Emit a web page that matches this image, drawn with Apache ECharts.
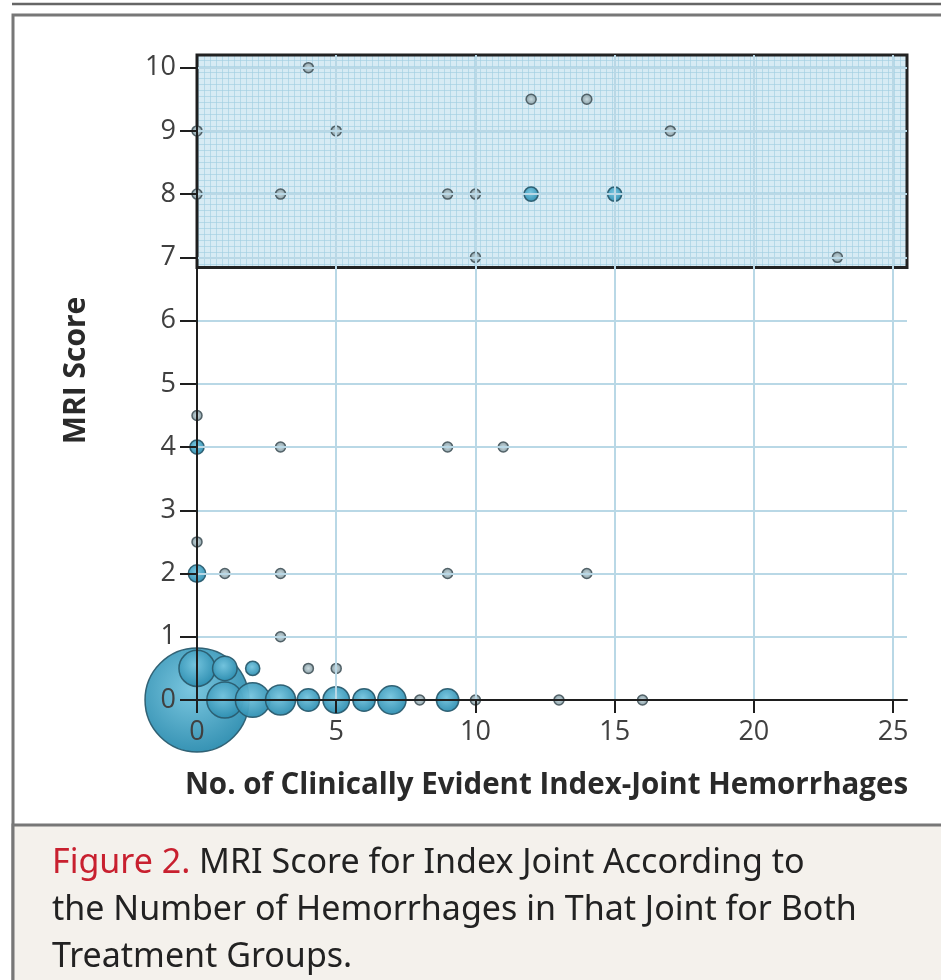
<!DOCTYPE html>
<html lang="en">
<head>
  <meta charset="UTF-8">
  <script src="https://cdn.jsdelivr.net/npm/echarts@6/dist/echarts.min.js"></script>
  <style>
    html, body { margin: 0; padding: 0; background: #fff; }
    #container { width: 941px; height: 980px; }
  </style>
</head>
<body>
  <div id="container"></div>
  <script>
    // hemorrhage count (x), MRI score (y), number of joints at that point
    var hemorrhages = [0, 0, 1, 1, 2, 2, 3, 4, 5, 6, 7, 8, 9, 10, 13, 16, 4, 5,
                       3, 0, 1, 3, 9, 14, 0, 0, 3, 9, 11, 0,
                       10, 23, 0, 3, 9, 10, 12, 15, 0, 5, 17, 12, 14, 4];
    var mriScore    = [0, 0.5, 0, 0.5, 0, 0.5, 0, 0, 0, 0, 0, 0, 0, 0, 0, 0, 0.5, 0.5,
                       1, 2, 2, 2, 2, 2, 2.5, 4, 4, 4, 4, 4.5,
                       7, 7, 8, 8, 8, 8, 8, 8, 9, 9, 9, 9.5, 9.5, 10];
    var jointCount  = [108, 13, 13, 6, 12, 2, 9, 5, 7, 5, 8, 1, 5, 1, 1, 1, 1, 1,
                       1, 3, 1, 1, 1, 1, 1, 2, 1, 1, 1, 1,
                       1, 1, 1, 1, 1, 1, 2, 2, 1, 1, 1, 1, 1, 1];
    var xTicks = [0, 5, 10, 15, 20, 25];
    var yTicks = [0, 1, 2, 3, 4, 5, 6, 7, 8, 9, 10];

    var bigFill = {
      type: 'radial', x: 0.45, y: 0.4, r: 0.6,
      colorStops: [{ offset: 0, color: '#74c4de' }, { offset: 1, color: '#2c8db0' }]
    };
    var dotFill = {
      type: 'radial', x: 0.5, y: 0.5, r: 0.5,
      colorStops: [{ offset: 0, color: '#c9d9de' }, { offset: 1, color: '#7f969e' }]
    };

    var points = [];
    for (var i = 0; i < hemorrhages.length; i++) {
      var single = jointCount[i] === 1;
      points.push({
        value: [hemorrhages[i], mriScore[i], jointCount[i]],
        itemStyle: single
          ? { color: dotFill, borderColor: '#4b5b61' }
          : { color: bigFill, borderColor: '#2a5c6f' }
      });
    }
    // big bubbles first so the small ones stay visible on top
    points.sort(function (a, b) { return b.value[2] - a.value[2]; });

    // fine graph-paper pattern for the shaded block
    var pat = document.createElement('canvas');
    pat.width = 6; pat.height = 6;
    var ctx = pat.getContext('2d');
    ctx.fillStyle = 'rgba(205,230,241,0.8)';
    ctx.fillRect(0, 0, 6, 6);
    ctx.fillStyle = 'rgba(160,205,225,0.6)';
    ctx.fillRect(0, 0, 6, 1);
    ctx.fillRect(0, 0, 1, 6);

    var axisFont = '"Open Sans", "Noto Sans", sans-serif';

    var myChart = echarts.init(document.getElementById('container'));
    var option = {
      backgroundColor: '#fff',
      animation: false,
      grid: { left: 197, right: 34, top: 55, bottom: 280 },
      xAxis: {
        type: 'value',
        z: 10,
        min: 0,
        max: 25.5,
        interval: 5,
        name: 'No. of Clinically Evident Index-Joint Hemorrhages',
        nameLocation: 'middle',
        nameGap: 71,
        nameTextStyle: { fontFamily: axisFont, fontWeight: 'bold', fontSize: 29.5, color: '#2a2a2a', padding: [0, 11, 0, 0] },
        axisLine: { lineStyle: { color: '#1e1e1e', width: 2 } },
        axisTick: { customValues: xTicks, length: 13, lineStyle: { color: '#1e1e1e', width: 2 } },
        axisLabel: { customValues: xTicks, fontFamily: axisFont, fontSize: 27, color: '#404040', margin: 19 },
        splitLine: { show: true, lineStyle: { color: '#b9d8e6', width: 2 } }
      },
      yAxis: {
        type: 'value',
        z: 10,
        min: 0,
        max: 10.2,
        interval: 1,
        name: 'MRI Score',
        nameLocation: 'middle',
        nameRotate: 90,
        nameGap: 106,
        nameTextStyle: { fontFamily: axisFont, fontWeight: 'bold', fontSize: 30, color: '#2a2a2a', padding: [0, 0, 0, 14] },
        axisLine: { show: true, lineStyle: { color: '#1e1e1e', width: 2 } },
        axisTick: { show: true, customValues: yTicks, length: 17, lineStyle: { color: '#1e1e1e', width: 2 } },
        axisLabel: { customValues: yTicks, fontFamily: axisFont, fontSize: 27, color: '#404040', margin: 21 },
        splitLine: { show: true, lineStyle: { color: '#b9d8e6', width: 2 } }
      },
      series: [
        {
          // shaded block for MRI score of 7 or more
          type: 'scatter',
          data: [],
          z: 1,
          markArea: {
            silent: true,
            itemStyle: {
              color: { image: pat, repeat: 'repeat' },
              borderColor: '#222',
              borderWidth: 3
            },
            data: [[{ coord: [0, 6.84] }, { coord: [25.5, 10.2] }]]
          }
        },
        {
          name: 'joints',
          type: 'scatter',
          z: 3,
          data: points,
          symbolSize: function (val) { return 10 * Math.sqrt(val[2]); },
          itemStyle: { borderWidth: 1.5, opacity: 0.95 }
        }
      ],
      graphic: [
        { type: 'line', shape: { x1: 12, y1: 4, x2: 941, y2: 4 }, style: { stroke: '#666', lineWidth: 2.5 } },
        { type: 'rect', shape: { x: 13, y: 15, width: 940, height: 975 }, style: { fill: null, stroke: '#777', lineWidth: 3 }, z: -1 },
        { type: 'rect', shape: { x: 13, y: 825, width: 940, height: 170 }, style: { fill: '#f4f1ec', stroke: '#777', lineWidth: 3 } },
        {
          type: 'text',
          left: 52,
          top: 846,
          style: {
            text: '{r|Figure 2. }{t|MRI Score for Index Joint According to}\n{t|the Number of Hemorrhages in That Joint for Both}\n{t|Treatment Groups.}',
            rich: {
              r: { fill: '#c8202f', fontSize: 34, fontFamily: '"Noto Sans", sans-serif', lineHeight: 47 },
              t: { fill: '#222', fontSize: 34, fontFamily: '"Noto Sans", sans-serif', lineHeight: 47 }
            }
          }
        }
      ]
    };
    myChart.setOption(option);
  </script>
</body>
</html>
